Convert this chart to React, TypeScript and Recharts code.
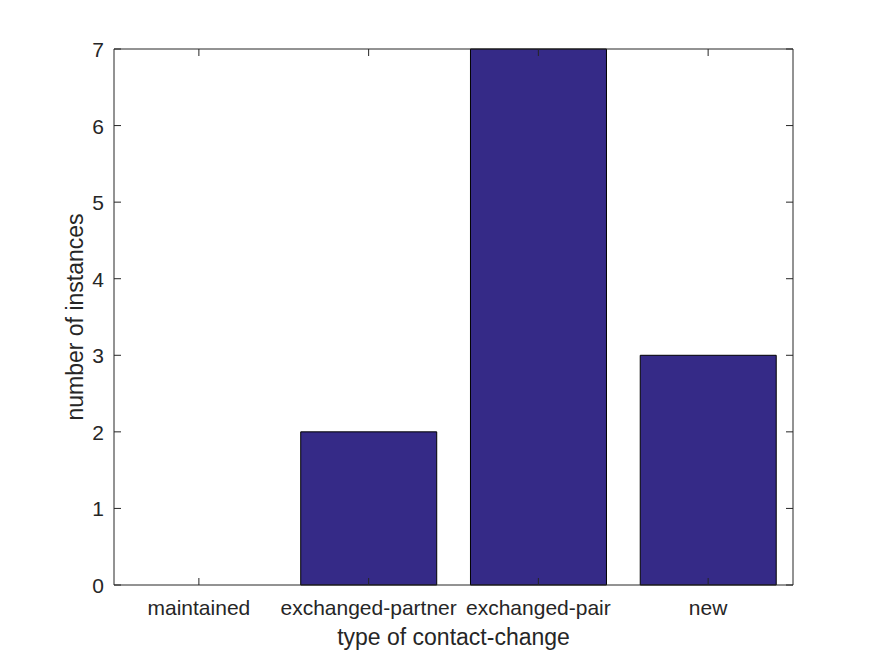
import React from 'react';
import { BarChart, Bar, XAxis, YAxis } from 'recharts';

const categories = ['maintained', 'exchanged-partner', 'exchanged-pair', 'new'];
const counts = [0, 2, 7, 3];
const yTicks = [0, 1, 2, 3, 4, 5, 6, 7];

const data = categories.map((c, i) => ({ category: c, count: counts[i] }));

const W = 875;
const H = 656;
const M = { top: 48, right: 81, bottom: 11, left: 54 };
const YW = 60;
const XH = 60;
const plotRight = W - M.right - 1;
const plotTop = M.top + 1;
const TICK = 7;
const INK = '#262626';
const FONT = '"Liberation Sans", Arial, Helvetica, sans-serif';

const YTick = (props: any) => {
  const { x, y, payload } = props;
  return (
    <g>
      <line x1={x} x2={x + TICK} y1={y} y2={y} stroke={INK} strokeWidth={1} />
      <line x1={plotRight - TICK} x2={plotRight} y1={y} y2={y} stroke={INK} strokeWidth={1} />
      <text x={x - 10} y={y + 8} textAnchor="end" fontSize={21} fill={INK} fontFamily={FONT}>
        {payload.value}
      </text>
    </g>
  );
};

const XTick = (props: any) => {
  const { x, y, payload } = props;
  return (
    <g>
      <line x1={x} x2={x} y1={y} y2={y - TICK} stroke={INK} strokeWidth={1} />
      <line x1={x} x2={x} y1={plotTop} y2={plotTop + TICK} stroke={INK} strokeWidth={1} />
      <text x={x} y={y + 30} textAnchor="middle" fontSize={21} fill={INK} fontFamily={FONT}>
        {payload.value}
      </text>
    </g>
  );
};

export default function App() {
  return (
    <div style={{ position: 'absolute', left: 0, top: 0, background: '#fff' }}>
      <BarChart width={W} height={H} data={data} margin={M} barCategoryGap="10%">
        <XAxis
          dataKey="category"
          height={XH}
          tickSize={0}
          tickMargin={0}
          tickLine={false}
          axisLine={{ stroke: INK, strokeWidth: 1 }}
          tick={<XTick />}
          interval={0}
          label={{
            value: 'type of contact-change',
            position: 'center',
            dy: 22,
            fontSize: 23,
            fill: INK,
            fontFamily: FONT,
          }}
        />
        <XAxis
          xAxisId="top"
          dataKey="category"
          orientation="top"
          height={1}
          tick={false}
          tickLine={false}
          axisLine={{ stroke: INK, strokeWidth: 1 }}
        />
        <YAxis
          domain={[0, 7]}
          ticks={yTicks}
          width={YW}
          tickSize={0}
          tickMargin={0}
          tickLine={false}
          axisLine={{ stroke: INK, strokeWidth: 1 }}
          tick={<YTick />}
          interval={0}
          label={{
            value: 'number of instances',
            angle: -90,
            position: 'center',
            dx: -9,
            fontSize: 23,
            fill: INK,
            fontFamily: FONT,
          }}
        />
        <YAxis
          yAxisId="right"
          orientation="right"
          domain={[0, 7]}
          width={1}
          tick={false}
          tickLine={false}
          axisLine={{ stroke: INK, strokeWidth: 1 }}
        />
        <Bar dataKey="count" fill="#352a87" stroke="#000" strokeWidth={1} isAnimationActive={false} />
      </BarChart>
    </div>
  );
}
